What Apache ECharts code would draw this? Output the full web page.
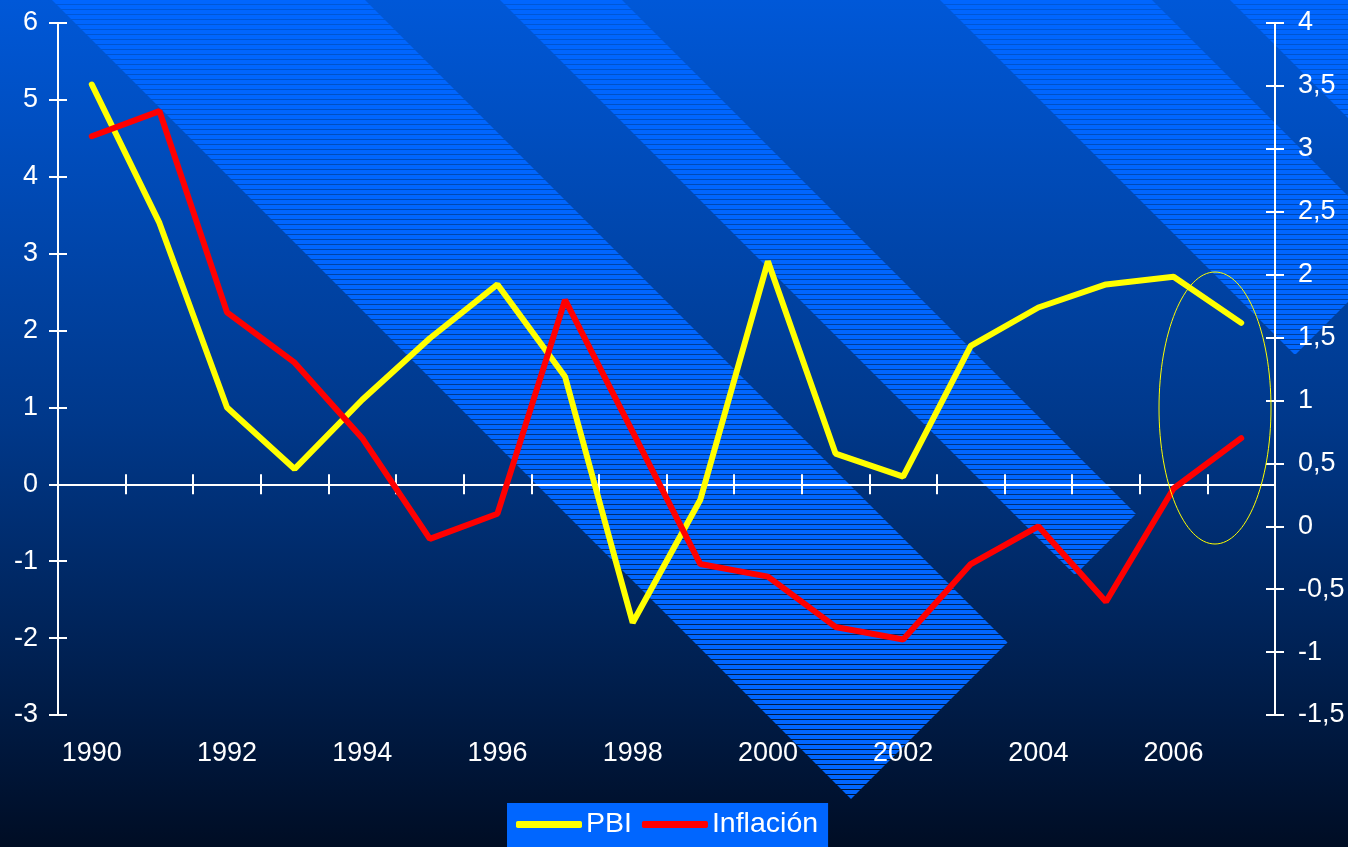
<!DOCTYPE html>
<html>
<head>
<meta charset="utf-8">
<script src="https://cdn.jsdelivr.net/npm/echarts@6/dist/echarts.min.js"></script>
<style>
  html, body { margin: 0; padding: 0; background: #000d24; }
  #chart { width: 1348px; height: 847px; }
</style>
</head>
<body>
<div id="chart"></div>
<script>
const years = ['1990', '1991', '1992', '1993', '1994', '1995', '1996', '1997', '1998',
               '1999', '2000', '2001', '2002', '2003', '2004', '2005', '2006', '2007'];
const pbi = [5.2, 3.4, 1.0, 0.2, 1.1, 1.9, 2.6, 1.4, -1.8, -0.2, 2.9, 0.4, 0.1, 1.8, 2.3, 2.6, 2.7, 2.1];
const inflacion = [3.1, 3.3, 1.7, 1.3, 0.7, -0.1, 0.1, 1.8, 0.75, -0.3, -0.4, -0.8, -0.9, -0.3, 0.0, -0.6, 0.3, 0.7];

const FONT = 'Liberation Sans, Arial, sans-serif';
const WHITE = '#ffffff';

// striped fill used by the diagonal background bands
const pc = document.createElement('canvas');
pc.width = 8; pc.height = 5;
const pctx = pc.getContext('2d');
pctx.fillStyle = '#0066ff';
pctx.fillRect(0, 0, 8, 4);
const stripes = { image: pc, repeat: 'repeat' };

function band(points) {
    return { type: 'polygon', z: -10, silent: true, shape: { points }, style: { fill: stripes } };
}

var dom = document.getElementById('chart');
var myChart = echarts.init(dom, null, { renderer: 'canvas' });

const leftAxis = { type: 'value', position: 'left', min: -3, max: 6, interval: 1 };
const rightAxis = { type: 'value', position: 'right', min: -1.5, max: 4, interval: 0.5 };
const lineStyle = { color: WHITE, width: 2 };

const option = {
    animation: false,
    graphic: [
        {
            type: 'rect', z: -20, silent: true,
            shape: { x: 0, y: 0, width: 1348, height: 847 },
            style: {
                fill: new echarts.graphic.LinearGradient(0, 0, 0, 1, [
                    { offset: 0, color: '#0058d8' },
                    { offset: 0.5, color: '#00388a' },
                    { offset: 0.75, color: '#002358' },
                    { offset: 1, color: '#000d24' }
                ])
            }
        },
        band([[52, 0], [365, 0], [1007.5, 642.5], [851, 799]]),
        band([[500, 0], [622, 0], [1136, 514], [1075, 575]]),
        band([[940, 0], [1152, 0], [1401, 249], [1295, 355]]),
        band([[1230, 0], [1500, 0], [1500, 270]]),
        {
            type: 'ellipse', z: 5, silent: true,
            shape: { cx: 1215, cy: 408, rx: 56, ry: 136 },
            style: { fill: 'none', stroke: '#ffff00', lineWidth: 1 }
        }
    ],
    grid: { left: 58, right: 73, top: 23, bottom: 132 },
    legend: {
        data: ['PBI', 'Inflación'],
        left: 507,
        top: 803,
        padding: [7, 10, 10, 9],
        backgroundColor: '#0066ff',
        icon: 'roundRect',
        itemWidth: 66,
        itemHeight: 7,
        itemGap: 10,
        textStyle: { color: WHITE, fontSize: 28.5, fontFamily: FONT, padding: [0, 0, 0, -1] }
    },
    xAxis: [
        {
            type: 'category', data: years, position: 'bottom',
            axisLine: { show: false, onZero: false },
            axisTick: { show: false },
            axisLabel: { interval: 1, color: WHITE, fontSize: 27, fontFamily: FONT, margin: 25 }
        },
        {
            type: 'category', data: years, position: 'bottom',
            axisLine: { show: true, onZero: true, onZeroAxisIndex: 0, lineStyle },
            axisTick: { show: true, interval: 0, length: 10, lineStyle },
            axisLabel: { show: false }
        },
        {
            type: 'category', data: years, position: 'bottom',
            axisLine: { show: true, onZero: true, onZeroAxisIndex: 0, lineStyle },
            axisTick: { show: true, inside: true, interval: 0, length: 10, lineStyle },
            axisLabel: { show: false }
        }
    ],
    yAxis: [
        Object.assign({}, leftAxis, {
            axisLine: { show: true, lineStyle },
            axisTick: { show: true, length: 9, lineStyle },
            axisLabel: { color: WHITE, fontSize: 27, fontFamily: FONT, margin: 20 },
            splitLine: { show: false }
        }),
        Object.assign({}, rightAxis, {
            axisLine: { show: true, lineStyle },
            axisTick: { show: true, length: 9, lineStyle },
            axisLabel: {
                color: WHITE, fontSize: 27, fontFamily: FONT, margin: 23,
                formatter: v => String(v).replace('.', ',')
            },
            splitLine: { show: false }
        }),
        Object.assign({}, leftAxis, {
            axisLine: { show: false },
            axisTick: { show: true, inside: true, length: 9, lineStyle },
            axisLabel: { show: false },
            splitLine: { show: false }
        }),
        Object.assign({}, rightAxis, {
            axisLine: { show: false },
            axisTick: { show: true, inside: true, length: 9, lineStyle },
            axisLabel: { show: false },
            splitLine: { show: false }
        })
    ],
    series: [
        {
            name: 'PBI', type: 'line', data: pbi,
            xAxisIndex: 0, yAxisIndex: 0,
            symbol: 'none', z: 3,
            itemStyle: { color: '#ffff00' },
            lineStyle: { color: '#ffff00', width: 6, cap: 'round' }
        },
        {
            name: 'Inflación', type: 'line', data: inflacion,
            xAxisIndex: 0, yAxisIndex: 1,
            symbol: 'none', z: 4,
            itemStyle: { color: '#ff0000' },
            lineStyle: { color: '#ff0000', width: 6, cap: 'round' }
        }
    ]
};
myChart.setOption(option);
</script>
</body>
</html>
